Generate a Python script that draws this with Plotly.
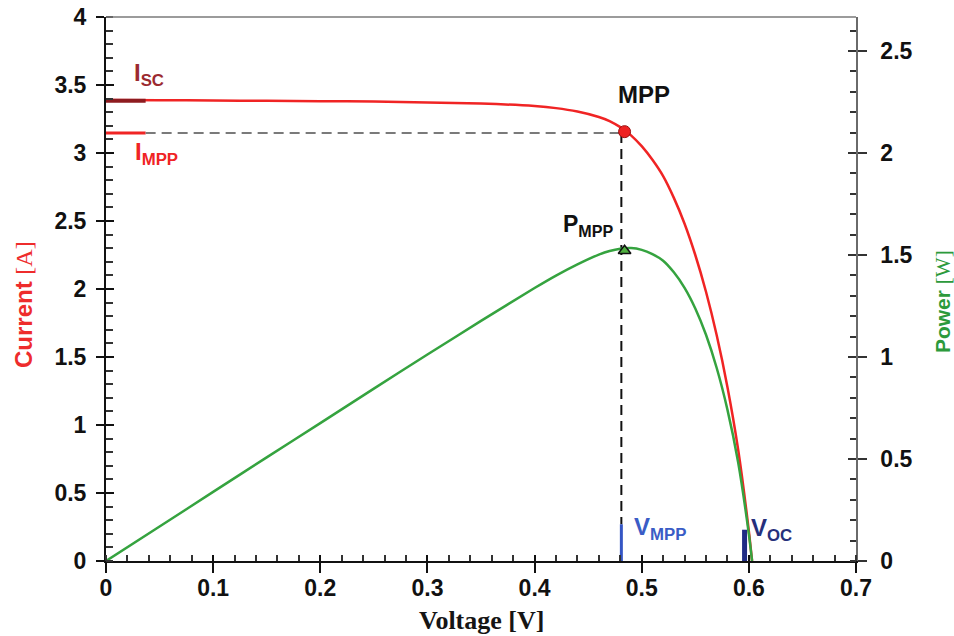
import plotly.graph_objects as go

# ---------------- data ----------------
voltage = [0, 0.05, 0.10, 0.15, 0.20, 0.25, 0.30, 0.35, 0.40, 0.42, 0.44, 0.46, 0.47,
           0.48, 0.49, 0.50, 0.51, 0.52, 0.53, 0.54, 0.55, 0.56, 0.57, 0.58, 0.59, 0.60, 0.603]
current = [3.390, 3.388, 3.386, 3.384, 3.381, 3.378, 3.372, 3.364, 3.345, 3.330, 3.305, 3.265, 3.235,
           3.190, 3.130, 3.050, 2.950, 2.830, 2.670, 2.480, 2.250, 1.980, 1.660, 1.280, 0.820, 0.220, 0.0]
power = [0.0, 0.169, 0.339, 0.508, 0.676, 0.845, 1.012, 1.177, 1.338, 1.399, 1.454, 1.502, 1.520,
         1.531, 1.534, 1.525, 1.504, 1.472, 1.415, 1.339, 1.238, 1.109, 0.946, 0.742, 0.484, 0.132, 0.0]

I_SC = 3.385
I_MPP = 3.147
V_MPP = 0.481
V_OC = 0.596
MPP_V = 0.484
MPP_I = 3.157
MPP_P = 1.521
MARK_LEN_V = 0.037      # length of the short Isc / Impp markers on the current axis
V_MARK_TOP_MPP = 0.27   # height (A) of the blue V_MPP marker
V_MARK_TOP_OC = 0.23    # height (A) of the navy V_OC marker

x_ticks = [0, 0.1, 0.2, 0.3, 0.4, 0.5, 0.6, 0.7]
x_labels = ["0", "0.1", "0.2", "0.3", "0.4", "0.5", "0.6", "0.7"]
yl_ticks = [0, 0.5, 1, 1.5, 2, 2.5, 3, 3.5, 4]
yl_labels = ["0", "0.5", "1", "1.5", "2", "2.5", "3", "3.5", "4"]
yr_ticks = [0, 0.5, 1, 1.5, 2, 2.5]
yr_labels = ["0", "0.5", "1", "1.5", "2", "2.5"]

RED = "#f02424"
GREEN = "#35a33f"
SANS = "Liberation Sans, Arial, sans-serif"
SERIF = "Liberation Serif, Times New Roman, serif"
TICKFONT = dict(family=SANS, size=23, color="#111111", weight="bold")

fig = go.Figure()

# power curve (right axis)
fig.add_trace(go.Scatter(x=voltage, y=power, mode="lines", yaxis="y2",
                         line=dict(color=GREEN, width=2.5, shape="spline", smoothing=0.6),
                         hoverinfo="skip", showlegend=False))
# current curve
fig.add_trace(go.Scatter(x=voltage, y=current, mode="lines",
                         line=dict(color=RED, width=2.5, shape="spline", smoothing=0.6),
                         hoverinfo="skip", showlegend=False))

# Isc marker
fig.add_trace(go.Scatter(x=[0, MARK_LEN_V], y=[I_SC, I_SC], mode="lines",
                         line=dict(color="#8e1b20", width=4), showlegend=False, hoverinfo="skip"))
# Impp marker
fig.add_trace(go.Scatter(x=[0, MARK_LEN_V], y=[I_MPP, I_MPP], mode="lines",
                         line=dict(color=RED, width=3), showlegend=False, hoverinfo="skip"))
# horizontal dashed guide
fig.add_trace(go.Scatter(x=[MARK_LEN_V, V_MPP], y=[I_MPP, I_MPP], mode="lines",
                         line=dict(color="#7a7a7a", width=2, dash="10px,6px"),
                         showlegend=False, hoverinfo="skip"))
# vertical dashed guide
fig.add_trace(go.Scatter(x=[V_MPP, V_MPP], y=[I_MPP, V_MARK_TOP_MPP], mode="lines",
                         line=dict(color="#111111", width=2, dash="10px,6px"),
                         showlegend=False, hoverinfo="skip"))
# V_MPP marker
fig.add_trace(go.Scatter(x=[V_MPP, V_MPP], y=[0, V_MARK_TOP_MPP], mode="lines",
                         line=dict(color="#3556c4", width=3), showlegend=False, hoverinfo="skip"))
# V_OC marker
fig.add_trace(go.Scatter(x=[V_OC, V_OC], y=[0, V_MARK_TOP_OC], mode="lines",
                         line=dict(color="#1f2b85", width=5), showlegend=False, hoverinfo="skip"))
# MPP point
fig.add_trace(go.Scatter(x=[MPP_V], y=[MPP_I], mode="markers",
                         marker=dict(color="#ee2222", size=12, line=dict(color="#9a1010", width=1)),
                         showlegend=False, hoverinfo="skip"))
# P_MPP triangle
fig.add_trace(go.Scatter(x=[MPP_V], y=[MPP_P], mode="markers", yaxis="y2",
                         marker=dict(symbol="triangle-up", color="#4fb040", size=11,
                                     line=dict(color="#111111", width=1.5)),
                         showlegend=False, hoverinfo="skip"))

# invisible helpers so overlay tick axes are drawn
fig.add_trace(go.Scatter(x=[0], y=[0], xaxis="x3", yaxis="y", mode="markers",
                         marker=dict(opacity=0), showlegend=False, hoverinfo="skip"))
fig.add_trace(go.Scatter(x=[0], y=[0], xaxis="x", yaxis="y3", mode="markers",
                         marker=dict(opacity=0), showlegend=False, hoverinfo="skip"))
fig.add_trace(go.Scatter(x=[0], y=[0], xaxis="x", yaxis="y4", mode="markers",
                         marker=dict(opacity=0), showlegend=False, hoverinfo="skip"))

XR = [0, 0.7]
YR = [0, 4]
Y2R = [0, 4 * 2 / 3]

fig.update_layout(
    width=954, height=636,
    margin=dict(l=106, r=98, t=17, b=75, pad=0, autoexpand=False),
    paper_bgcolor="white", plot_bgcolor="white",
    showlegend=False,
    xaxis=dict(range=XR, tickvals=x_ticks, ticktext=x_labels, tickfont=TICKFONT,
               ticks="outside", ticklen=10, tickwidth=2, tickcolor="#111",
               showline=True, linecolor="#111", linewidth=2, automargin=False,
               showgrid=False, zeroline=False, ticklabelstandoff=-5,
               minor=dict(dtick=0.02, tick0=0, ticks="inside", ticklen=6, tickwidth=1.5,
                          tickcolor="#333", showgrid=False)),
    xaxis3=dict(range=XR, overlaying="x", anchor="y", side="bottom", tickvals=x_ticks,
                showticklabels=False, ticks="inside", ticklen=6, tickwidth=2, tickcolor="#111",
                showline=False, showgrid=False, zeroline=False, automargin=False),
    yaxis=dict(range=YR, tickvals=yl_ticks, ticktext=yl_labels, tickfont=TICKFONT,
               ticks="outside", ticklen=8, tickwidth=2, tickcolor="#111",
               showline=True, linecolor="#111", linewidth=2, automargin=False,
               showgrid=False, zeroline=False, ticklabelstandoff=5,
               minor=dict(dtick=0.1, tick0=0, ticks="inside", ticklen=7, tickwidth=1.5,
                          tickcolor="#333", showgrid=False)),
    yaxis3=dict(range=YR, overlaying="y", anchor="x", side="left", tickvals=yl_ticks,
                showticklabels=False, ticks="inside", ticklen=8, tickwidth=2, tickcolor="#111",
                showline=False, showgrid=False, zeroline=False, automargin=False),
    yaxis2=dict(range=Y2R, overlaying="y", side="right", anchor="x",
                tickvals=yr_ticks, ticktext=yr_labels, tickfont=TICKFONT,
                ticks="outside", ticklen=9, tickwidth=1.5, tickcolor="#333",
                showline=True, linecolor="#6a6a6a", linewidth=1.5, automargin=False,
                showgrid=False, zeroline=False, ticklabelstandoff=9,
                minor=dict(dtick=0.1, tick0=0, ticks="inside", ticklen=6, tickwidth=1.5,
                           tickcolor="#333", showgrid=False)),
    yaxis4=dict(range=Y2R, overlaying="y", side="right", anchor="x", tickvals=yr_ticks,
                showticklabels=False, ticks="inside", ticklen=8, tickwidth=1.5, tickcolor="#333",
                showline=False, showgrid=False, zeroline=False, automargin=False),
    shapes=[dict(type="line", xref="paper", yref="paper", x0=0, x1=1, y0=1, y1=1,
                 line=dict(color="#7a7a7a", width=1.5))],
)

ann = []
# point labels anchored to their data values
ann.append(dict(x=MPP_V, y=MPP_I, xref="x", yref="y", text="<b>MPP</b>", showarrow=False,
                xshift=19, yshift=37, font=dict(family=SANS, size=24, color="#111")))
ann.append(dict(x=MPP_V, y=MPP_P, xref="x", yref="y2", text="<b>P<sub>MPP</sub></b>", showarrow=False,
                xshift=-37, yshift=25, font=dict(family=SANS, size=23, color="#111")))
ann.append(dict(x=0, y=I_SC, xref="x", yref="y", text="<b>I<sub>SC</sub></b>", showarrow=False,
                xshift=43, yshift=26, font=dict(family=SANS, size=24, color="#9b2a30")))
ann.append(dict(x=0, y=I_MPP, xref="x", yref="y", text="<b>I<sub>MPP</sub></b>", showarrow=False,
                xshift=50, yshift=-20, font=dict(family=SANS, size=24, color=RED)))
ann.append(dict(x=V_MPP, y=0, xref="x", yref="y", text="<b>V<sub>MPP</sub></b>", showarrow=False,
                xshift=39, yshift=33, font=dict(family=SANS, size=24, color="#3a5cc6")))
ann.append(dict(x=V_OC, y=0, xref="x", yref="y", text="<b>V<sub>OC</sub></b>", showarrow=False,
                xshift=27, yshift=32, font=dict(family=SANS, size=24, color="#26307c")))

# axis titles
ann.append(dict(x=-0.1107, y=0.4724, xref="paper", yref="paper", textangle=-90, showarrow=False,
                xanchor="center", yanchor="middle",
                text="<b>Current</b> <span style='font-family:Liberation Serif'>[A]</span>",
                font=dict(family=SANS, size=24, color="#ee2c2c")))
ann.append(dict(x=1.116, y=0.476, xref="paper", yref="paper", textangle=-90, showarrow=False,
                xanchor="center", yanchor="middle",
                text="<b>Power</b> <span style='font-family:Liberation Serif'>[W]</span>",
                font=dict(family=SANS, size=21, color="#2c9a3c")))
ann.append(dict(x=0.5, y=-0.110, xref="paper", yref="paper", showarrow=False,
                xanchor="center", yanchor="middle",
                text="<b>Voltage [V]</b>",
                font=dict(family=SERIF, size=26, color="#151515")))
fig.update_layout(annotations=ann)

fig.write_html("out.html")
